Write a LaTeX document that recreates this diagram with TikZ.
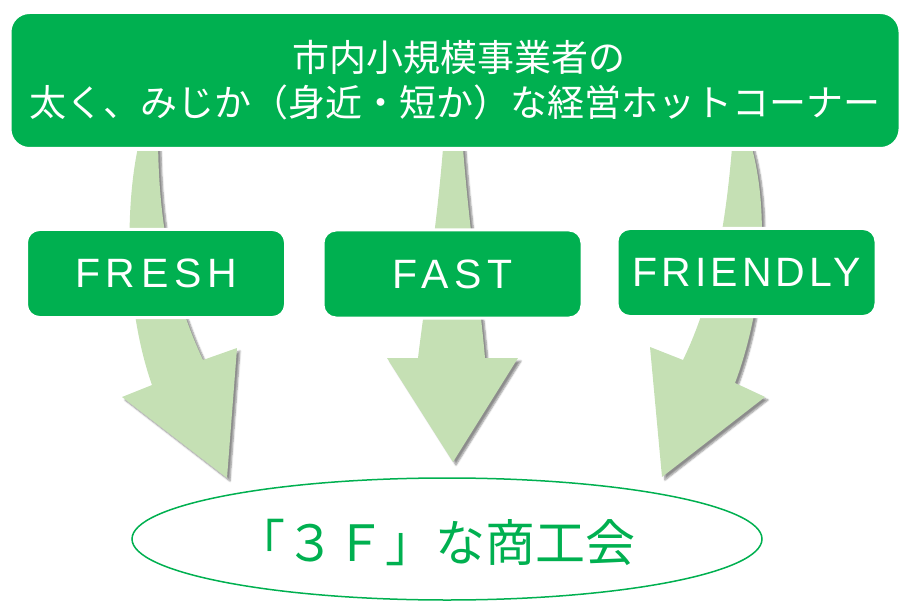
\documentclass[tikz,border=0pt]{standalone}
\usepackage{fontspec}
\usetikzlibrary{shadows.blur,shapes.geometric}
\newfontfamily\jpfont{Noto Sans CJK JP}
\newfontfamily\boxfont{Liberation Sans}[LetterSpace=14]
\newfontfamily\boxfontnarrow{Liberation Sans}[LetterSpace=10]
\definecolor{dgreen}{RGB}{0,176,80}
\definecolor{lgreen}{RGB}{197,224,180}
\begin{document}
\begin{tikzpicture}[x=1pt,y=-1pt,
  flow/.style={fill=lgreen, blur shadow={shadow xshift=3pt,shadow yshift=-3pt,shadow blur steps=6,shadow opacity=45}},
  banner/.style={fill=dgreen, draw=white, line width=4pt, rounded corners=20pt, minimum width=891pt, minimum height=137pt, inner sep=0pt},
  tag/.style={fill=dgreen, draw=white, line width=3pt, rounded corners=13pt, minimum width=259pt, minimum height=88pt, inner sep=0pt,
    text=white, font=\boxfont\fontsize{41}{41}\selectfont},
  bantext/.style={text=white, font=\jpfont\fontsize{37}{37}\selectfont, inner sep=0pt},
  goal/.style={ellipse, draw=dgreen, line width=1.5pt, fill=white, minimum width=630pt, minimum height=122pt, inner sep=0pt},
  goaltxt/.style={text=dgreen, font=\jpfont\fontsize{50}{50}\selectfont, inner sep=0pt}
]
\useasboundingbox (0,0) rectangle (901,601);
% curved block arrows
\fill[flow] (141,135) .. controls (126,190) and (122,300) .. (152,385) -- (122,397) -- (227,478) -- (237,348) -- (203,360) .. controls (175,300) and (158,230) .. (158,135) -- cycle;
\fill[flow] (444,135) .. controls (438,220) and (425,300) .. (418,358) -- (387,358) -- (453,462) -- (518,358) -- (485,358) .. controls (480,300) and (468,220) .. (462,135) -- cycle;
\fill[flow] (733,135) .. controls (726,230) and (712,300) .. (683,360) -- (650,347) -- (662,477) -- (765,397) -- (735,383) .. controls (766,300) and (770,200) .. (748,135) -- cycle;
% banner
\node[banner] (top) at (455,80.5) {};
\node[bantext] (l1) at (459,57) {市内小規模事業者の};
\node[bantext] (l2) at (455,102) {太く、みじか（身近・短か）な経営ホットコーナー};
% boxes
\node[tag] (fresh) at (156,273.5) {FRESH};
\node[tag] (fast) at (452.5,274) {FAST};
\node[tag, font=\boxfontnarrow\fontsize{41}{41}\selectfont] (friendly) at (746.5,272.5) {FRIENDLY};
% goal
\node[goal] (goal) at (447,539) {};
\node[goaltxt] (goaltext) at (435,542) {「３Ｆ」な商工会};
\end{tikzpicture}
\end{document}
